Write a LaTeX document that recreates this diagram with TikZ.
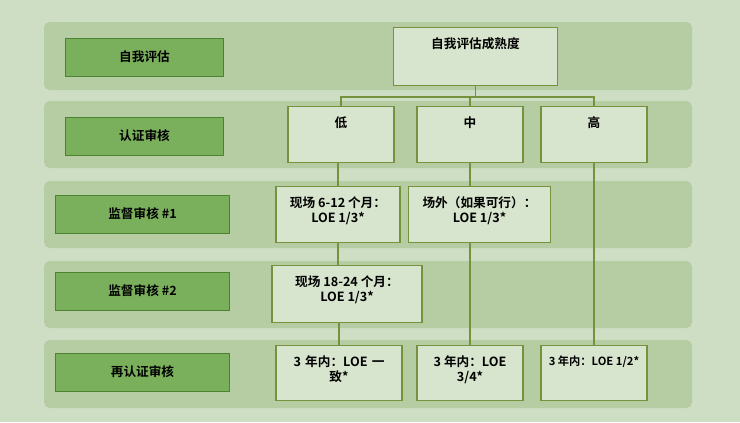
\documentclass[tikz,border=0pt]{standalone}
\usepackage{fontspec}
\newfontfamily\cjk{Noto Sans CJK SC}[BoldFont={Noto Sans CJK SC Bold}]
\usetikzlibrary{positioning}
\definecolor{bg_green}{RGB}{206,222,196}
\definecolor{band_green}{RGB}{182,204,163}
\definecolor{tag_green}{RGB}{122,176,92}
\definecolor{tag_border}{RGB}{76,130,52}
\definecolor{box_fill}{RGB}{216,229,206}
\definecolor{line_green}{RGB}{118,146,60}
\tikzset{
  band/.style={fill=band_green, rounded corners=4pt, draw=none},
  tag/.style={rectangle, draw=tag_border, fill=tag_green, font=\cjk\bfseries\small, minimum height=0.95cm},
  box/.style={rectangle, draw=line_green, line width=0.8pt, fill=box_fill, anchor=north, inner sep=0pt},
  boxtext/.style={font=\cjk\bfseries\small, align=center, anchor=north},
  line/.style={draw=line_green, line width=0.8pt}
}
\begin{document}
\begin{tikzpicture}[x=0.025cm, y=-0.025cm]
	\fill[bg_green] (0,0) rectangle (740,422);
	\useasboundingbox (0,0) rectangle (740,422);
	% rows
	\foreach \t/\b in {22/90, 101/168, 181/248, 261/328, 340/408}
		\fill[band] (44,\t) rectangle (692,\b);

	\node [tag, minimum width=3.95cm] (self) at (144.5,57) {自我评估};
	\node [tag, minimum width=3.95cm] (cert) at (144.5,136) {认证审核};
	\node [tag, minimum width=4.35cm] (sur1) at (142.5,214) {监督审核 \#1};
	\node [tag, minimum width=4.35cm] (sur2) at (142.5,291) {监督审核 \#2};
	\node [tag, minimum width=4.35cm] (recert) at (142.5,372) {再认证审核};

	\node [box, minimum width=4.1cm, minimum height=1.45cm] (maturity) at (475.5,27) {};
	\node [box, minimum width=2.65cm, minimum height=1.4cm] (low) at (341,106) {};
	\node [box, minimum width=2.65cm, minimum height=1.4cm] (mid) at (470,106) {};
	\node [box, minimum width=2.65cm, minimum height=1.4cm] (high) at (594,106) {};
	\node [boxtext, below=4pt of maturity.north] {自我评估成熟度};
	\node [boxtext, below=4pt of low.north] {低};
	\node [boxtext, below=4pt of mid.north] {中};
	\node [boxtext, below=4pt of high.north] {高};

	\node [box, minimum width=3.1cm, minimum height=1.4cm] (onsite) at (338,186) {};
	\node [box, minimum width=3.55cm, minimum height=1.4cm] (offsite) at (479.5,186) {};
	\node [box, minimum width=3.75cm, minimum height=1.42cm] (onsite2) at (347,265) {};
	\node [box, minimum width=3.15cm, minimum height=1.38cm] (final1) at (339,345) {};
	\node [box, minimum width=2.65cm, minimum height=1.38cm] (final2) at (470,345) {};
	\node [box, minimum width=2.65cm, minimum height=1.38cm] (final3) at (594,345) {};
	\node [boxtext, below=4pt of onsite.north] {现场 6-12 个月：\\LOE 1/3*};
	\node [boxtext, below=4pt of offsite.north] {场外（如果可行）：\\LOE 1/3*};
	\node [boxtext, below=4pt of onsite2.north] {现场 18-24 个月：\\LOE 1/3*};
	\node [boxtext, below=4pt of final1.north, text width=2.7cm] {3 年内：LOE 一\\致*};
	\node [boxtext, below=4pt of final2.north] {3 年内：LOE\\3/4*};
	\node [boxtext, below=4pt of final3.north, font=\cjk\bfseries\footnotesize] {3 年内：LOE 1/2*};

	\coordinate (split) at (475.5,97);
	\path [line] (maturity.south) -- (split);
	\path [line] (split) -| (low.north);
	\path [line] (split) -| (mid.north);
	\path [line] (split) -| (high.north);
	\path [line] (low.south -| onsite.north) -- (onsite.north);
	\path [line] (onsite.south) -- (onsite.south |- onsite2.north);
	\path [line] (onsite2.south -| final1.north) -- (final1.north);
	\path [line] (mid.south) -- (mid.south |- offsite.north);
	\path [line] (mid.south |- offsite.south) -- (final2.north);
	\path [line] (high.south) -- (final3.north);
\end{tikzpicture}
\end{document}
